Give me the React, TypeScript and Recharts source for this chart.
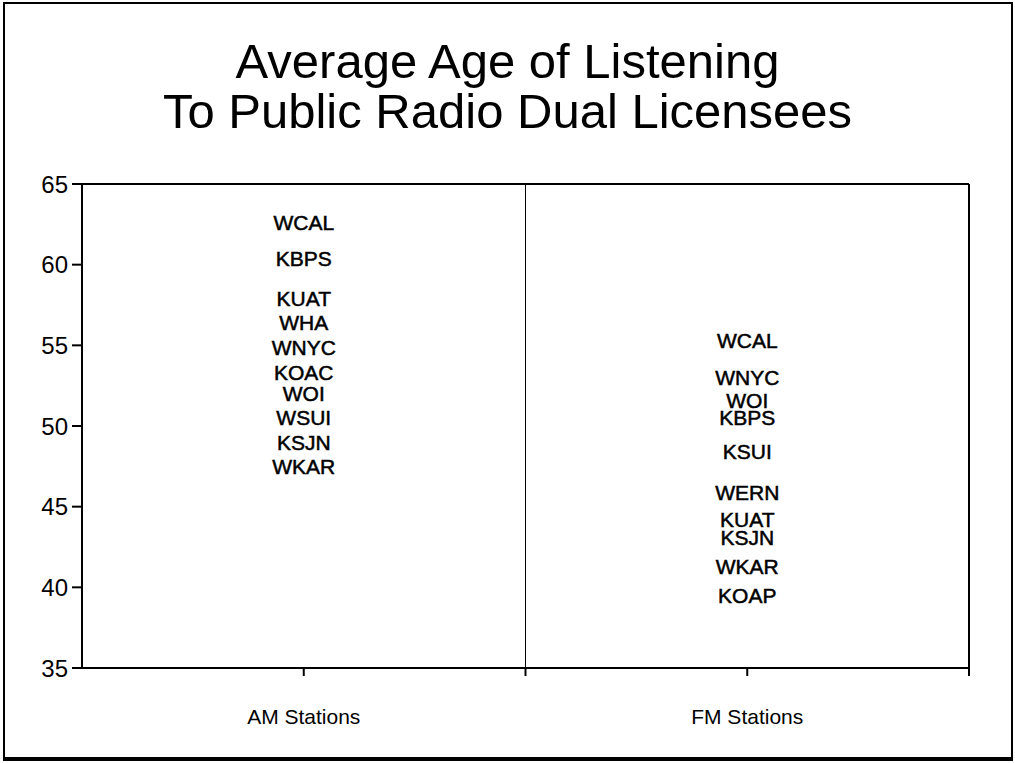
import React from "react";
import {
  ComposedChart,
  Scatter,
  XAxis,
  YAxis,
  ReferenceLine,
} from "recharts";

// AM stations
const amStations = ["WCAL", "KBPS", "KUAT", "WHA", "WNYC", "KOAC", "WOI", "WSUI", "KSJN", "WKAR"];
const amAges = [62.6, 60.4, 57.9, 56.4, 54.9, 53.3, 52.0, 50.5, 49.0, 47.5];

// FM stations (right column)
const fmStations = ["WCAL", "WNYC", "WOI", "KBPS", "KSUI", "WERN", "KUAT", "KSJN", "WKAR", "KOAP"];
const fmAges = [55.3, 53.0, 51.6, 50.5, 48.4, 45.9, 44.2, 43.1, 41.3, 39.5];

const categories = ["AM Stations", "FM Stations"];
const yTicks = [35, 40, 45, 50, 55, 60, 65];

const titleLines = ["Average Age of Listening", "To Public Radio Dual Licensees"];

const font = '"Liberation Sans", Arial, Helvetica, sans-serif';

// category i sits in the middle of its band: 0.5, 1.5
const amData = amStations.map((name, i) => ({ x: 0.5, age: amAges[i], name }));
const fmData = fmStations.map((name, i) => ({ x: 1.5, age: fmAges[i], name }));

const StationLabel = (props: any) => {
  const { cx, cy, payload } = props;
  return (
    <text
      x={cx}
      y={cy}
      dy="0.36em"
      textAnchor="middle"
      fontFamily={font}
      fontSize={21}
      fill="#000"
      stroke="#000"
      strokeWidth={0.5}
    >
      {payload.name}
    </text>
  );
};

export default function App() {
  return (
    <div style={{ position: "relative", width: 1015, height: 763, background: "#fff", overflow: "hidden" }}>
      <style>{"body{margin:0}"}</style>
      <div
        style={{
          position: "absolute",
          left: 0,
          top: 36,
          width: 1015,
          textAlign: "center",
          fontFamily: font,
          fontSize: 49,
          lineHeight: "50px",
          color: "#000",
        }}
      >
        {titleLines.map((t) => (
          <div key={t}>{t}</div>
        ))}
      </div>
      <div style={{ position: "absolute", left: 0, top: 0 }}>
        <ComposedChart
          width={1015}
          height={763}
          margin={{ top: 184, right: 46, bottom: 54, left: 12 }}
        >
          <XAxis
            type="number"
            dataKey="x"
            domain={[0, 2]}
            ticks={[0.5, 1, 1.5, 2]}
            tickFormatter={(v) => (v === 0.5 ? categories[0] : v === 1.5 ? categories[1] : "")}
            height={41}
            tickSize={8}
            tickMargin={33}
            axisLine={{ stroke: "#000", strokeWidth: 2 }}
            tickLine={{ stroke: "#000", strokeWidth: 2 }}
            tick={{ fill: "#000", fontFamily: font, fontSize: 21 }}
          />
          <YAxis
            type="number"
            dataKey="age"
            domain={[35, 65]}
            ticks={yTicks}
            width={70}
            tickSize={10}
            tickMargin={4}
            axisLine={{ stroke: "#000", strokeWidth: 2 }}
            tickLine={{ stroke: "#000", strokeWidth: 2 }}
            tick={{ fill: "#000", fontFamily: font, fontSize: 24 }}
          />
          <ReferenceLine y={65} stroke="#000" strokeWidth={2} />
          <ReferenceLine x={2} stroke="#000" strokeWidth={2} />
          <ReferenceLine x={1} stroke="#000" strokeWidth={1} />
          <Scatter data={amData} shape={StationLabel} isAnimationActive={false} />
          <Scatter data={fmData} shape={StationLabel} isAnimationActive={false} />
        </ComposedChart>
      </div>
      {/* page frame */}
      <svg
        width={1015}
        height={763}
        style={{ position: "absolute", left: 0, top: 0, pointerEvents: "none" }}
      >
        <path d="M4 760 V3 H1012 V760" fill="none" stroke="#000" strokeWidth={2} />
        <line x1={3} y1={759} x2={1013} y2={759} stroke="#000" strokeWidth={4} />
      </svg>
    </div>
  );
}
